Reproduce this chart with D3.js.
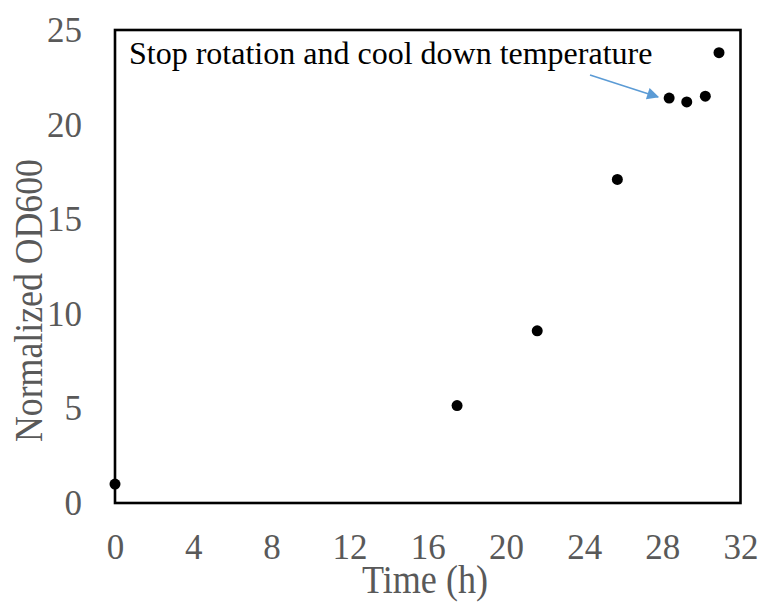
<!DOCTYPE html>
<html>
<head>
<meta charset="utf-8">
<script src="https://cdn.jsdelivr.net/npm/d3@7"></script>
<style>
  html, body { margin: 0; padding: 0; background: #fff; }
  svg { display: block; }
</style>
</head>
<body>
<svg id="chart" width="762" height="613"></svg>
<script>
// Culture growth: normalized OD600 over time
const timeHours = [0, 17.5, 21.6, 25.7, 28.35, 29.25, 30.2, 30.9];
const od600 = [1.0, 5.15, 9.1, 17.1, 21.4, 21.2, 21.5, 23.8];
const xTicks = [0, 4, 8, 12, 16, 20, 24, 28, 32];
const yTicks = [0, 5, 10, 15, 20, 25];
const annotationText = "Stop rotation and cool down temperature";
const xTitle = "Time (h)";
const yTitle = "Normalized OD600";

const svg = d3.select("#chart");
const font = "'Liberation Serif', 'Times New Roman', serif";
const plot = { left: 115, right: 740.5, top: 30, bottom: 503 };

const x = d3.scaleLinear().domain([0, 32]).range([plot.left, plot.right]);
const y = d3.scaleLinear().domain([0, 25]).range([plot.bottom, plot.top]);

// axis tick labels (no tick marks)
const xAxis = d3.axisBottom(x).tickValues(xTicks).tickSize(0).tickPadding(0).tickFormat(d3.format("d"));
const gx = svg.append("g").attr("transform", `translate(0,${plot.bottom})`).call(xAxis);
gx.select(".domain").remove();
gx.selectAll("text")
  .attr("dy", null).attr("y", 56)
  .attr("font-family", font).attr("font-size", 35).attr("fill", "#595959");

const yAxis = d3.axisLeft(y).tickValues(yTicks).tickSize(0).tickPadding(0).tickFormat(d3.format("d"));
const gy = svg.append("g").attr("transform", `translate(82,0)`).call(yAxis);
gy.select(".domain").remove();
gy.selectAll("text")
  .attr("dy", null).attr("x", 0).attr("y", 11.5)
  .attr("font-family", font).attr("font-size", 35).attr("fill", "#595959");

// plot frame
svg.append("rect")
  .attr("x", plot.left).attr("y", plot.top)
  .attr("width", plot.right - plot.left).attr("height", plot.bottom - plot.top)
  .attr("fill", "none").attr("stroke", "#000").attr("stroke-width", 2.6);

// data points
svg.append("g").selectAll("circle")
  .data(timeHours.map((t, i) => [t, od600[i]]))
  .join("circle")
  .attr("cx", d => x(d[0])).attr("cy", d => y(d[1]))
  .attr("r", 5.5).attr("fill", "#000");

// axis titles (tall glyphs, narrowed to their set lengths)
svg.append("text")
  .attr("x", 425).attr("y", 593)
  .attr("text-anchor", "middle")
  .attr("font-family", font).attr("font-size", 40).attr("fill", "#595959")
  .attr("textLength", 126).attr("lengthAdjust", "spacingAndGlyphs")
  .text(xTitle);

svg.append("text")
  .attr("transform", "translate(42,300.5) rotate(-90)")
  .attr("text-anchor", "middle")
  .attr("font-family", font).attr("font-size", 40).attr("fill", "#595959")
  .attr("textLength", 283).attr("lengthAdjust", "spacingAndGlyphs")
  .text(yTitle);

// annotation with arrow
const defs = svg.append("defs");
defs.append("marker")
  .attr("id", "arrowHead")
  .attr("viewBox", "0 0 10 10")
  .attr("refX", 9).attr("refY", 5)
  .attr("markerWidth", 13).attr("markerHeight", 12)
  .attr("markerUnits", "userSpaceOnUse")
  .attr("orient", "auto")
  .append("path").attr("d", "M0,0 L10,5 L0,10 Z").attr("fill", "#5B9BD5");

svg.append("text")
  .attr("x", 129).attr("y", 64)
  .attr("font-family", font).attr("font-size", 32).attr("fill", "#000")
  .text(annotationText);

svg.append("line")
  .attr("x1", 590).attr("y1", 75)
  .attr("x2", 658).attr("y2", 97)
  .attr("stroke", "#5B9BD5").attr("stroke-width", 1.5)
  .attr("marker-end", "url(#arrowHead)");
</script>
</body>
</html>
